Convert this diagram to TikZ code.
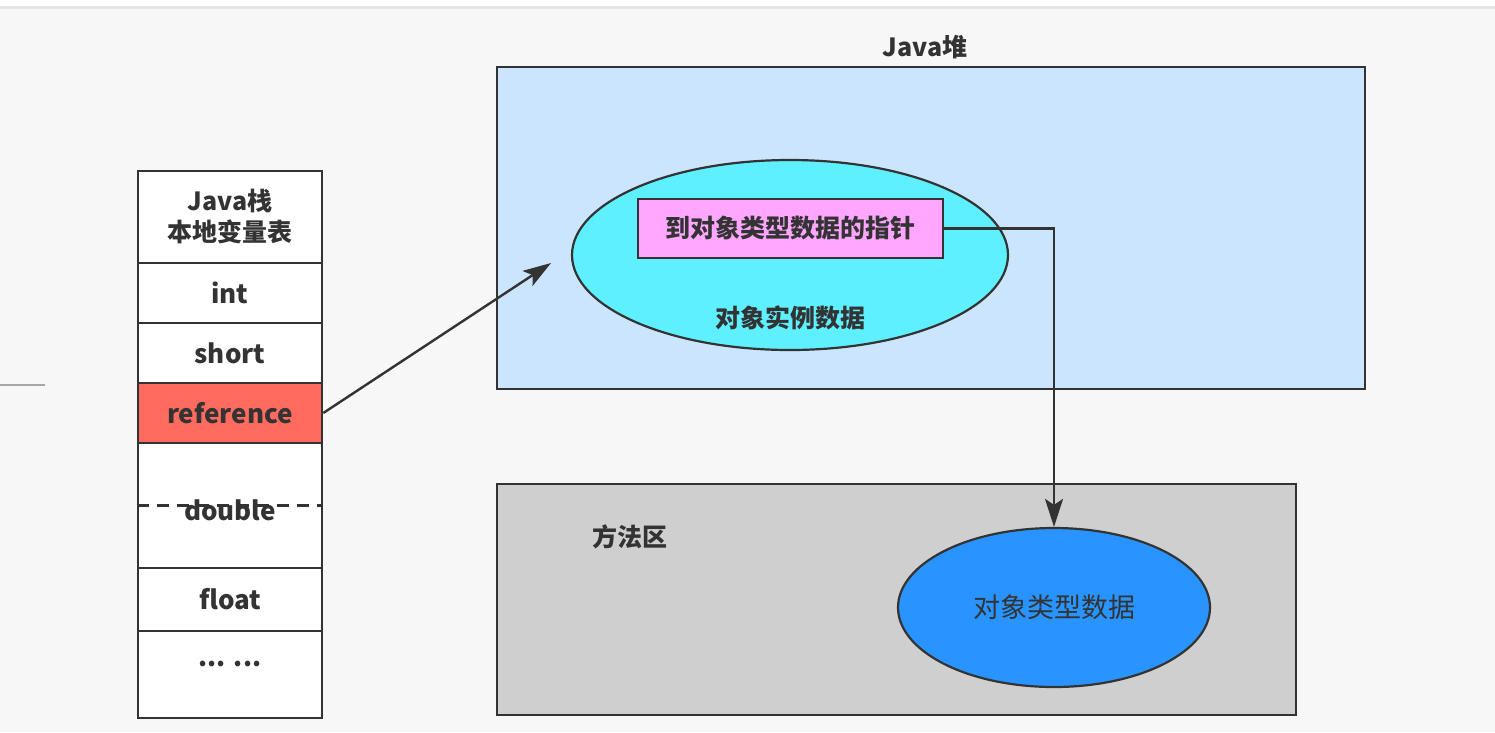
\documentclass[tikz,border=0pt]{standalone}
\usepackage{fontspec}
\setmainfont{Noto Sans CJK SC}
\usepackage{tikz}
\usetikzlibrary{arrows.meta, shapes.geometric, positioning, calc}
\definecolor{pagebg}    {RGB}{247, 247, 247}
\definecolor{linegray}  {RGB}{ 51,  51,  51}
\definecolor{heapblue}  {RGB}{204, 229, 255}
\definecolor{instcyan}  {RGB}{ 94, 240, 255}
\definecolor{ptrpink}   {RGB}{255, 166, 255}
\definecolor{methodgray}{RGB}{207, 207, 207}
\definecolor{typeblue}  {RGB}{ 41, 148, 255}
\definecolor{refred}    {RGB}{255, 107,  94}

\begin{document}
\begin{tikzpicture}[x=1pt, y=-1pt,
		every node/.style={text=linegray, inner sep=0pt},
		cell/.style={draw=linegray, line width=2.6pt, fill=white, minimum width=184pt, font=\fontsize{26}{31}\selectfont\bfseries},
		area/.style={draw=linegray, line width=2.8pt},
		oval/.style={ellipse, draw=linegray, line width=2.2pt},
		cjk/.style={font=\fontsize{25}{30}\selectfont\bfseries},
		arr/.style={draw=linegray, line width=2.4pt, -{Stealth[length=28pt, width=18pt, inset=6pt]}}
	]
	\fill[pagebg] (0,0) rectangle (1495,732);
	\useasboundingbox (0,0) rectangle (1495,732);
	\fill[white] (0,0) rectangle (1495,6);
	\draw[black!10, line width=3pt] (0,7.5)--(1495,7.5);
	\draw[black!35, line width=1.5pt] (0,385)--(45,385);
	% stack
	\node[cell, minimum height=92pt, align=center, font=\fontsize{25}{31}\selectfont\bfseries] (head) at (230,217) {Java栈\\本地变量表};
	\node[cell, minimum height=60pt] (int) at (230,293) {int};
	\node[cell, minimum height=60pt] (short) at (230,353) {short};
	\node[cell, minimum height=60pt, fill=refred] (ref) at (230,413) {reference};
	\node[cell, minimum height=125pt] (dbl) at (230,505.5) {};
	\draw[linegray, line width=2.2pt, dash pattern=on 12pt off 8pt] (dbl.west) -- (dbl.east);
	\node[font=\fontsize{26}{31}\selectfont\bfseries] at (230,510) {double};
	\node[cell, minimum height=63pt] (flt) at (230,599.5) {float};
	\node[cell, minimum height=87pt] (rest) at (230,674.5) {};
	\node[font=\fontsize{26}{31}\selectfont\bfseries] at (230,664) {... ...};
	% heap
	\node[area, fill=heapblue, minimum width=868pt, minimum height=322pt] (heap) at (931,228) {};
	\node[cjk] at (925,47) {Java堆};
	\node[oval, fill=instcyan, minimum width=436pt, minimum height=190pt] (inst) at (790,255) {};
	\node[cjk] at (790,318) {对象实例数据};
	\node[draw=linegray, line width=2.6pt, fill=ptrpink, minimum width=305pt, minimum height=59pt, cjk] (ptr) at (790.5,228.5) {到对象类型数据的指针};
	% method area
	\node[area, fill=methodgray, minimum width=799pt, minimum height=231pt] (method) at (896.5,599.5) {};
	\node[cjk] at (630,537) {方法区};
	\node[oval, fill=typeblue, minimum width=312pt, minimum height=159pt, font=\fontsize{27}{32}\selectfont] (type) at (1054,607.5) {对象类型数据};
	% pointers
	\coordinate (tip) at (551,263);
	\draw[arr] (ref.east) -- (tip);
	\draw[arr] (ptr.east) -| (type.north);
\end{tikzpicture}
\end{document}
